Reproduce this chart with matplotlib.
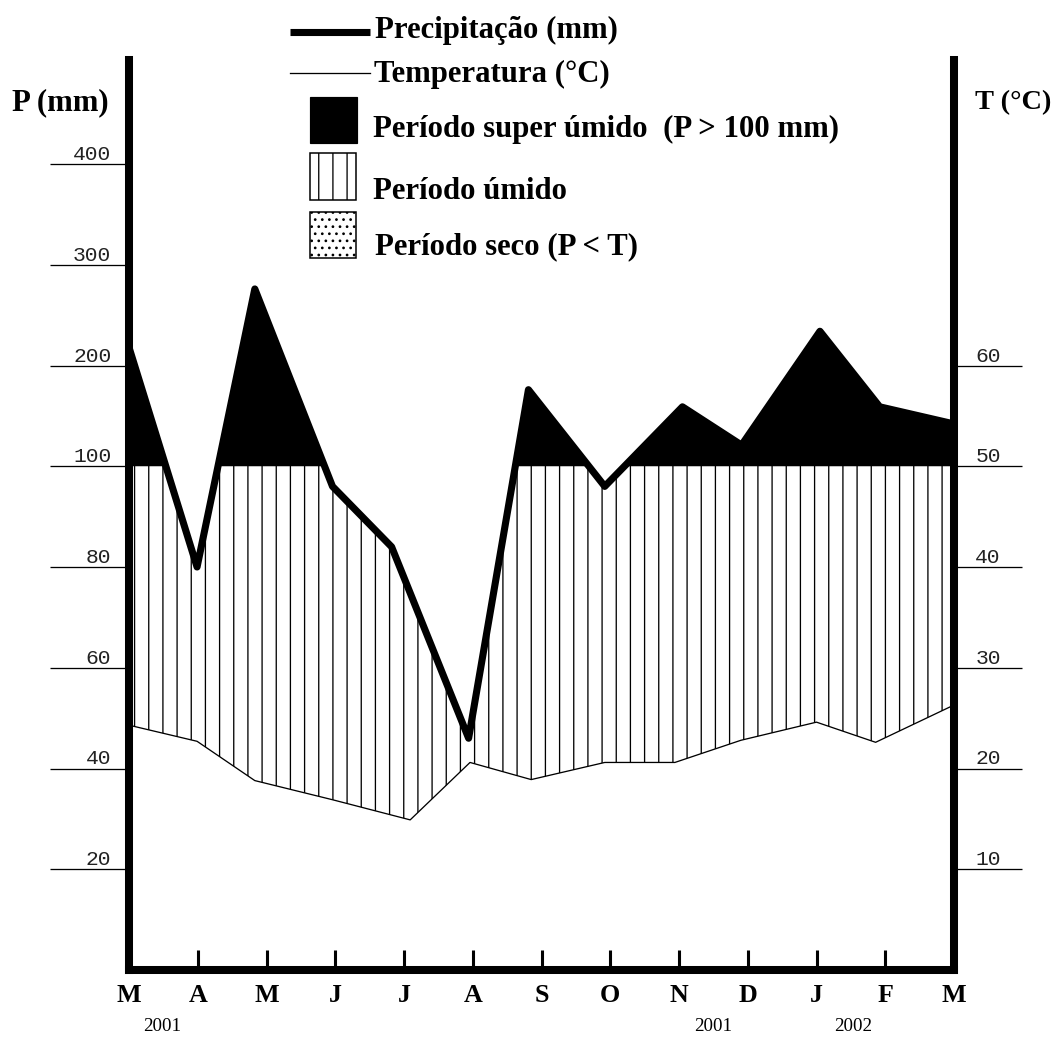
import numpy as np
import matplotlib
matplotlib.use("Agg")
from matplotlib import pyplot as plt
from matplotlib.patches import Rectangle

plt.rcParams['font.family'] = ['Liberation Serif', 'DejaVu Serif']
plt.rcParams['hatch.linewidth'] = 1.1

# meses de mar/2001 a mar/2002
meses = ['M', 'A', 'M', 'J', 'J', 'A', 'S', 'O', 'N', 'D', 'J', 'F', 'M']
anos = ['2001', '2001', '2002']
anos_pos = [0.49, 8.5, 10.54]

# posicao de cada valor no eixo x (em meses, como no desenho original)
pos_p = [0, 0.99, 1.83, 2.96, 3.82, 4.94, 5.81, 6.92, 8.05, 8.91, 10.05, 10.92, 12]
precip = [218, 80, 276, 96, 84, 46, 176, 96, 159, 121, 234, 159, 142]   # mm

pos_t = [0, 0.99, 1.83, 2.96, 4.09, 4.96, 5.85, 6.92, 7.94, 8.9, 10.0, 10.86, 12]
temp = [24.3, 22.7, 18.8, 16.9, 14.9, 20.6, 18.9, 20.6, 20.6, 22.8, 24.6, 22.6, 26.3]  # oC

p_ticks = [20, 40, 60, 80, 100, 200, 300, 400]
t_ticks = [10, 20, 30, 40, 50, 60]


def escala(p):
    # acima de 100 mm a escala e reduzida 5x (diagrama de Walter-Lieth)
    p = np.asarray(p, dtype=float)
    return np.where(p <= 100, p, 100 + (p - 100) / 5.0)


DPI = 85
W, H = 1060, 1039
fig = plt.figure(figsize=(W / DPI, H / DPI), dpi=DPI)
ax = fig.add_axes([129 / W, (H - 970) / H, 825 / W, 910 / H])
ymax = 910 / 5.0375

vp = escala(precip)
vt = 2 * np.array(temp)
pos_p = np.array(pos_p)
pos_t = np.array(pos_t)

# periodo umido (hachurado) e super umido (preto)
ax.fill(np.r_[pos_p, pos_t[::-1]], np.r_[vp, vt[::-1]], facecolor='white',
        edgecolor='black', hatch='|', linewidth=0, zorder=1)
ax.fill_between(pos_p, 100, vp, where=vp >= 100, interpolate=True,
                facecolor='black', edgecolor='black', linewidth=0, zorder=1.5)
ax.plot(pos_t, vt, color='black', lw=1.1, zorder=2)
ax.plot(pos_p, vp, color='black', lw=6, solid_joinstyle='round', zorder=2.2)

ax.set_xlim(0, 12)
ax.set_ylim(0, ymax)
ax.spines['top'].set_visible(False)
ax.spines['right'].set_visible(False)
ax.spines['left'].set_linewidth(6.8)
ax.spines['bottom'].set_linewidth(6.8)

ax.set_xticks(range(len(meses)))
ax.set_xticklabels(meses, fontsize=22, fontweight='bold')
ax.tick_params(axis='x', direction='in', length=17, width=2.6, pad=12)

ax.set_yticks(escala(p_ticks))
ax.set_yticklabels([str(v) for v in p_ticks], fontfamily='Liberation Mono',
                   fontsize=18, va='bottom', color='#222222')
ax.tick_params(axis='y', direction='out', length=67, width=1.1, pad=-52)

ax2 = ax.twinx()
ax2.set_ylim(0, ymax / 2)
for s in ['top', 'left', 'bottom']:
    ax2.spines[s].set_visible(False)
ax2.spines['right'].set_linewidth(6.8)
ax2.set_yticks(t_ticks)
ax2.set_yticklabels([str(v) for v in t_ticks], fontfamily='Liberation Mono',
                    fontsize=18, va='bottom', ha='left', color='#222222')
ax2.tick_params(axis='y', direction='out', length=58, width=1.1, pad=-40)

for txt, x in zip(anos, anos_pos):
    ax.text(x, -0.0625, txt, transform=ax.get_xaxis_transform(),
            ha='center', va='center', fontsize=16)

fig.text(12 / W, 1 - 103 / H, 'P (mm)', fontsize=26, fontweight='bold', va='center')
fig.text(975 / W, 1 - 103 / H, 'T (°C)', fontsize=24, fontweight='bold', va='center')

# legenda desenhada em coordenadas de pixel
lg = fig.add_axes([0, 0, 1, 1])
lg.set_xlim(0, W)
lg.set_ylim(H, 0)
lg.axis('off')
lg.plot([290, 370], [32, 32], color='black', lw=6, solid_capstyle='butt')
lg.plot([290, 370], [73, 73], color='black', lw=1.1)
lg.add_patch(Rectangle((310, 97), 47, 46, facecolor='black', edgecolor='black'))
lg.add_patch(Rectangle((310, 153), 46, 47, facecolor='white', edgecolor='black',
                       hatch='|', lw=1.3))
lg.add_patch(Rectangle((310, 212), 46, 46, facecolor='white', edgecolor='black',
                       hatch='..', lw=1.3))
fs = 26
lg.text(375, 38, 'Precipitação (mm)', fontsize=fs, fontweight='bold', va='baseline')
lg.text(374, 82, 'Temperatura (°C)', fontsize=fs, fontweight='bold', va='baseline')
lg.text(373, 137, 'Período super úmido  (P > 100 mm)', fontsize=fs,
        fontweight='bold', va='baseline')
lg.text(373, 199, 'Período úmido', fontsize=fs, fontweight='bold', va='baseline')
lg.text(375, 254, 'Período seco (P < T)', fontsize=fs, fontweight='bold', va='baseline')

fig.savefig('out.png', dpi=DPI)
